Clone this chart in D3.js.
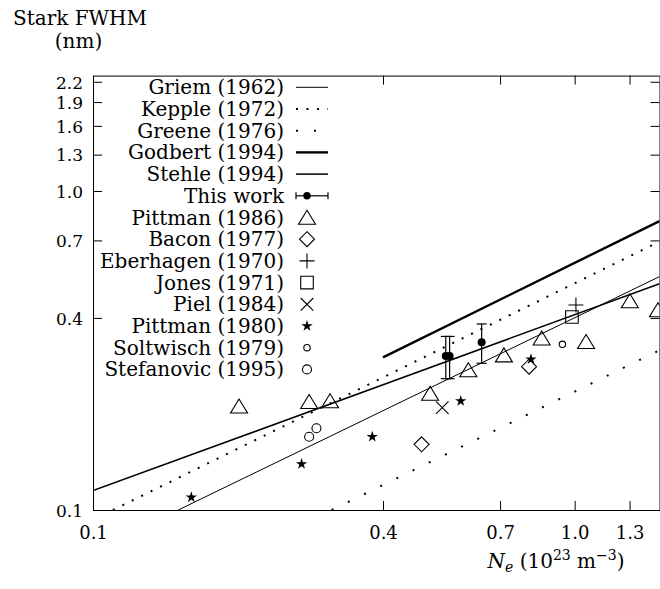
<!DOCTYPE html>
<html>
<head>
<meta charset="utf-8">
<script src="https://cdn.jsdelivr.net/npm/d3@7"></script>
<style>
  html, body { margin: 0; padding: 0; background: #fff; }
  svg { display: block; }
  text { font-family: "DejaVu Serif", "Liberation Serif", serif; fill: #000; }
</style>
</head>
<body>
<svg id="chart" width="660" height="589"></svg>
<script>
// Axis ticks
const xTicks = [0.1, 0.4, 0.7, 1.0, 1.3];
const yTicks = [0.1, 0.4, 0.7, 1.0, 1.3, 1.6, 1.9, 2.2];

// Theoretical curves as [Ne, FWHM] end points (power laws, straight on log-log)
const griem   = [[0.1503, 0.1], [1.5, 0.539]];
const kepple  = [[0.110, 0.1], [1.5, 0.694]];
const greene  = [[0.313, 0.1], [1.5, 0.3167]];
const godbert = [[0.4, 0.301], [1.5, 0.805]];
const stehle  = [[0.1, 0.115], [1.5, 0.512]];

// This work: [Ne, FWHM, low, high]
const thisWork = [
  [0.540, 0.304, 0.258, 0.350],
  [0.550, 0.304, 0.258, 0.350],
  [0.641, 0.3355, 0.2884, 0.383]
];

// Other measurements: [Ne, FWHM]
const pittman1986 = [[0.201, 0.2116], [0.281, 0.2185], [0.3105, 0.2196], [0.501, 0.232],
                     [0.6015, 0.2747], [0.713, 0.306], [0.854, 0.3454], [1.056, 0.337],
                     [1.302, 0.452], [1.489, 0.4236]];
const bacon1977      = [[0.481, 0.1607], [0.804, 0.2813]];
const eberhagen1970  = [[1.006, 0.4391]];
const jones1971      = [[0.987, 0.4027]];
const piel1984       = [[0.531, 0.2093]];
const pittman1980    = [[0.160, 0.1096], [0.271, 0.1394], [0.380, 0.1697], [0.580, 0.2196], [0.8115, 0.2968]];
const soltwisch1979  = [[0.943, 0.3307]];
const stefanovic1995 = [[0.281, 0.1697], [0.291, 0.1804]];

// Legend labels in display order
const legendLabels = ["Griem (1962)", "Kepple (1972)", "Greene (1976)", "Godbert (1994)", "Stehle (1994)",
  "This work", "Pittman (1986)", "Bacon (1977)", "Eberhagen (1970)", "Jones (1971)", "Piel (1984)",
  "Pittman (1980)", "Soltwisch (1979)", "Stefanovic (1995)"];

const FONT = 20;
const SMALL = 14;
const FAMILY = "DejaVu Serif, Liberation Serif, serif";
const svg = d3.select("#chart");
const plotLeft = 93, plotRight = 659.5, plotTop = 75.6, plotBottom = 510;

const x = d3.scaleLog().domain([0.1, 1.5]).range([plotLeft, plotRight]);
const y = d3.scaleLog().domain([0.1, 2.3]).range([plotBottom, plotTop]);

svg.append("defs").append("clipPath").attr("id", "plot-clip")
  .append("rect").attr("x", plotLeft).attr("y", plotTop)
  .attr("width", plotRight - plotLeft).attr("height", plotBottom - plotTop);

const fmt = d3.format(".1f");

// Axes with inward ticks, mirrored on top and right
const gx = svg.append("g").attr("transform", `translate(0,${plotBottom})`)
  .call(d3.axisBottom(x).tickValues(xTicks).tickFormat(fmt).tickSize(-9).tickSizeOuter(0).tickPadding(16));
const gy = svg.append("g").attr("transform", `translate(${plotLeft},0)`)
  .call(d3.axisLeft(y).tickValues(yTicks).tickFormat(fmt).tickSize(-9).tickSizeOuter(0).tickPadding(10));
svg.append("g").attr("transform", `translate(0,${plotTop})`)
  .call(d3.axisTop(x).tickValues(xTicks).tickFormat("").tickSize(-9).tickSizeOuter(0));
svg.append("g").attr("transform", `translate(${plotRight},0)`)
  .call(d3.axisRight(y).tickValues(yTicks).tickFormat("").tickSize(-9).tickSizeOuter(0));

svg.selectAll("g").attr("font-family", FAMILY);
svg.selectAll(".domain, .tick line").attr("stroke", "#000").attr("stroke-width", 1);
gx.selectAll(".tick text").attr("font-size", 18).attr("fill", "#000");
gy.selectAll(".tick text").attr("font-size", 17).attr("dy", "0.37em").attr("fill", "#000");

// Titles
svg.append("text").attr("x", 80).attr("y", 25).attr("text-anchor", "middle").attr("font-size", FONT).text("Stark FWHM");
svg.append("text").attr("x", 78.5).attr("y", 48).attr("text-anchor", "middle").attr("font-size", FONT).text("(nm)");

const xl = svg.append("text").attr("x", 556).attr("y", 568).attr("text-anchor", "middle").attr("font-size", FONT);
xl.append("tspan").attr("font-style", "italic").text("N");
xl.append("tspan").attr("font-style", "italic").attr("font-size", SMALL).attr("dy", 4).text("e");
xl.append("tspan").attr("dy", -4).text(" (10");
xl.append("tspan").attr("font-size", SMALL).attr("dy", -8).text("23");
xl.append("tspan").attr("dy", 8).text(" m");
xl.append("tspan").attr("font-size", SMALL).attr("dy", -8).text("\u22123");
xl.append("tspan").attr("dy", 8).text(")");

// Curve styles
const curves = [
  { data: griem,   width: 1,   dash: null },
  { data: kepple,  width: 2,   dash: "2,8.5" },
  { data: greene,  width: 2,   dash: "2,16" },
  { data: godbert, width: 2.4, dash: null },
  { data: stehle,  width: 1.5, dash: null }
];

const plot = svg.append("g").attr("clip-path", "url(#plot-clip)");
const line = d3.line().x(d => x(d[0])).y(d => y(d[1]));
curves.forEach(c => {
  plot.append("path").attr("d", line(c.data)).attr("fill", "none").attr("stroke", "#000")
    .attr("stroke-width", c.width).attr("stroke-dasharray", c.dash);
});

// Marker shapes
function marker(g, type, cx, cy) {
  const s = g.append("path").attr("fill", "none").attr("stroke", "#000").attr("stroke-width", 1.1);
  const p = d3.path();
  if (type === "triangle") {
    p.moveTo(cx - 8.5, cy + 6.8); p.lineTo(cx + 8.5, cy + 6.8); p.lineTo(cx, cy - 7.2); p.closePath();
  } else if (type === "diamond") {
    p.moveTo(cx, cy - 7.5); p.lineTo(cx + 7.5, cy); p.lineTo(cx, cy + 7.5); p.lineTo(cx - 7.5, cy); p.closePath();
  } else if (type === "plus") {
    p.moveTo(cx - 7.5, cy); p.lineTo(cx + 7.5, cy); p.moveTo(cx, cy - 7.5); p.lineTo(cx, cy + 7.5);
  } else if (type === "square") {
    p.rect(cx - 6.3, cy - 6.3, 12.6, 12.6);
  } else if (type === "cross") {
    p.moveTo(cx - 6.3, cy - 6.3); p.lineTo(cx + 6.3, cy + 6.3); p.moveTo(cx - 6.3, cy + 6.3); p.lineTo(cx + 6.3, cy - 6.3);
  } else if (type === "star") {
    s.attr("fill", "#000").attr("stroke", "none")
      .attr("d", d3.symbol(d3.symbolStar, 40)()).attr("transform", `translate(${cx},${cy})`);
    return;
  } else if (type === "smallcircle") {
    p.moveTo(cx + 3.2, cy); p.arc(cx, cy, 3.2, 0, 2 * Math.PI);
  } else if (type === "circle") {
    p.moveTo(cx + 4.5, cy); p.arc(cx, cy, 4.5, 0, 2 * Math.PI);
  }
  s.attr("d", p.toString());
}

function errorBar(g, cx, cy, lo, hi) {
  g.append("line").attr("x1", cx).attr("x2", cx).attr("y1", lo).attr("y2", hi).attr("stroke", "#000").attr("stroke-width", 1.2);
  [lo, hi].forEach(v => g.append("line").attr("x1", cx - 5).attr("x2", cx + 5).attr("y1", v).attr("y2", v)
    .attr("stroke", "#000").attr("stroke-width", 1.2));
  g.append("circle").attr("cx", cx).attr("cy", cy).attr("r", 4).attr("fill", "#000");
}

const series = [
  { data: pittman1986, type: "triangle" },
  { data: bacon1977, type: "diamond" },
  { data: eberhagen1970, type: "plus" },
  { data: jones1971, type: "square" },
  { data: piel1984, type: "cross" },
  { data: pittman1980, type: "star" },
  { data: soltwisch1979, type: "smallcircle" },
  { data: stefanovic1995, type: "circle" }
];

const pts = svg.append("g").attr("clip-path", "url(#plot-clip)");
series.forEach(s => s.data.forEach(d => marker(pts, s.type, x(d[0]), y(d[1]))));
thisWork.forEach(d => errorBar(pts, x(d[0]), y(d[1]), y(d[2]), y(d[3])));

// Legend
const lg = svg.append("g");
const rowY = i => 87.3 + i * 21.7;
const sx0 = 296, sx1 = 328, sxc = 307;
legendLabels.forEach((lab, i) => {
  lg.append("text").attr("x", 284).attr("y", rowY(i) + 7).attr("text-anchor", "end").attr("font-size", FONT).text(lab);
});
curves.forEach((c, i) => {
  lg.append("line").attr("x1", sx0).attr("x2", sx1).attr("y1", rowY(i)).attr("y2", rowY(i))
    .attr("stroke", "#000").attr("stroke-width", c.width).attr("stroke-dasharray", c.dash);
});
{
  const yy = rowY(5);
  lg.append("line").attr("x1", sx0).attr("x2", sx1).attr("y1", yy).attr("y2", yy).attr("stroke", "#000").attr("stroke-width", 1.2);
  [sx0, sx1].forEach(v => lg.append("line").attr("x1", v).attr("x2", v).attr("y1", yy - 3.5).attr("y2", yy + 3.5)
    .attr("stroke", "#000").attr("stroke-width", 1.2));
  lg.append("circle").attr("cx", sxc).attr("cy", yy).attr("r", 3.7).attr("fill", "#000");
}
series.forEach((s, i) => marker(lg, s.type, sxc, rowY(6 + i)));
</script>
</body>
</html>
